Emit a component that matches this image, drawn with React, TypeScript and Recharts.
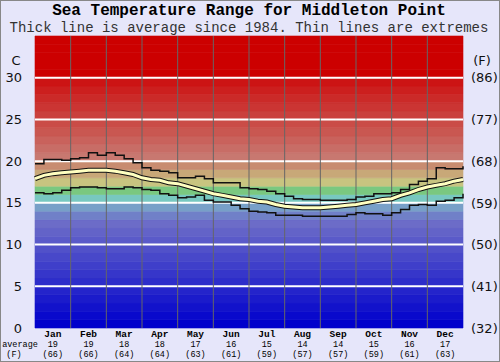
import { ComposedChart, Line, XAxis, YAxis, ReferenceArea, ReferenceLine } from "recharts";

const months = ["Jan", "Feb", "Mar", "Apr", "May", "Jun", "Jul", "Aug", "Sep", "Oct", "Nov", "Dec"];
const avgC = [19, 19, 18, 18, 17, 16, 15, 14, 14, 15, 16, 17];
const avgF = [66, 66, 64, 64, 63, 61, 59, 57, 57, 59, 61, 63];
const cTicks = [0, 5, 10, 15, 20, 25, 30];
const fTicks = [32, 41, 50, 59, 68, 77, 86];

// readings every quarter month, Jan 1 -> Dec 31
const maxVals = [
  19.7, 20.2, 20.2, 20.1, 20.3, 20.4, 21.0, 20.7, 21.0, 20.7, 20.3, 19.8, 19.2,
  18.9, 18.8, 18.6, 18.0, 18.0, 18.2, 17.9, 17.4, 17.4, 17.4, 16.8, 16.7,
  16.6, 16.4, 16.1, 15.8, 15.5, 15.4, 15.4, 15.3, 15.3, 15.3, 15.4, 15.7,
  15.8, 16.1, 16.1, 16.2, 16.6, 17.2, 17.6, 17.9, 19.2, 19.1, 19.1, 19.4,
];
const meanVals = [
  17.9, 18.3, 18.5, 18.6, 18.7, 18.8, 18.9, 18.9, 18.9, 18.8, 18.6, 18.4, 18.0,
  17.8, 17.7, 17.4, 17.3, 17.0, 16.7, 16.4, 16.1, 15.9, 15.7, 15.5, 15.4,
  15.2, 15.1, 14.8, 14.6, 14.5, 14.4, 14.4, 14.4, 14.5, 14.6, 14.7, 14.8,
  15.0, 15.2, 15.4, 15.5, 15.9, 16.2, 16.6, 16.9, 17.1, 17.3, 17.6, 17.8,
];
const minVals = [
  16.2, 16.1, 16.2, 16.5, 16.8, 16.9, 16.9, 16.8, 16.7, 16.7, 16.9, 16.8, 16.6,
  16.5, 16.1, 15.9, 15.6, 15.7, 15.9, 15.3, 15.1, 15.1, 14.7, 14.3, 14.0,
  13.9, 13.8, 13.5, 13.5, 13.5, 13.4, 13.4, 13.4, 13.4, 13.4, 13.6, 13.8,
  13.7, 13.7, 13.5, 13.8, 14.2, 14.7, 14.8, 14.7, 15.2, 15.3, 15.6, 16.1,
];

const data = meanVals.map((v, i) => ({ m: i / 4, max: maxVals[i], mean: v, min: minVals[i] }));

const mix = (a: number[], b: number[], t: number) =>
  `rgb(${a.map((c, k) => Math.round(c + (b[k] - c) * t)).join(",")})`;

const bandColor = (i: number) => {
  if (i <= 12) return mix([0, 0, 204], [108, 108, 200], i / 12);
  const mid: Record<number, string> = {
    13: "rgb(112,128,200)",
    14: "rgb(120,160,200)",
    15: "rgb(120,200,192)",
    16: "rgb(122,200,128)",
    17: "rgb(200,196,128)",
    18: "rgb(200,168,120)",
    19: "rgb(200,140,112)",
  };
  if (mid[i]) return mid[i];
  if (i < 30) return mix([200, 120, 112], [204, 20, 20], (i - 20) / 9);
  return "rgb(204,0,0)";
};

const bands = Array.from({ length: 35 }, (_, i) => i);
const mono = "'Liberation Mono', 'Courier New', monospace";
const sans = "'DejaVu Sans', sans-serif";

const MonthTick = (props: any) => {
  const { x, y, payload } = props;
  const i = Math.floor(payload.value);
  return (
    <text x={x} y={y + 9} fontFamily={mono} textAnchor="middle" fill="#000" fontSize={8.5}>
      <tspan x={x} fontSize={9.5} fontWeight="bold">{months[i]}</tspan>
      <tspan x={x} dy={10}>{avgC[i]}</tspan>
      <tspan x={x} dy={10}>({avgF[i]})</tspan>
    </text>
  );
};

const FTick = (props: any) => {
  const { x, y, index } = props;
  return (
    <text x={x} y={y} dy="0.36em" textAnchor="start" fontFamily={sans} fontSize={13} fill="#111">
      ({fTicks[index]})
    </text>
  );
};

const App = () => {
  return (
    <div style={{ position: "absolute", left: 0, top: 0, width: 500, height: 362, background: "#e6e6fa" }}>
      <ComposedChart width={500} height={362} data={data} margin={{ top: 36, right: 0, bottom: 0, left: 0 }}>
        <XAxis
          dataKey="m"
          type="number"
          domain={[0, 12]}
          ticks={months.map((_, i) => i + 0.5)}
          tick={<MonthTick />}
          tickLine={false}
          axisLine={false}
          tickSize={0}
          tickMargin={0}
          height={34}
          interval={0}
        />
        <YAxis
          yAxisId="c"
          domain={[0, 35]}
          ticks={cTicks}
          width={35}
          tickLine={false}
          axisLine={false}
          tickSize={0}
          tickMargin={13}
          tick={{ fontFamily: sans, fontSize: 13, fill: "#111" }}
        />
        <YAxis
          yAxisId="f"
          orientation="right"
          domain={[0, 35]}
          ticks={cTicks}
          width={37}
          tickLine={false}
          axisLine={false}
          tickSize={0}
          tickMargin={8}
          tick={<FTick />}
          interval={0}
        />
        {bands.map((i) => (
          <ReferenceArea
            key={`band-${i}`}
            yAxisId="c"
            y1={i}
            y2={i + 1}
            fill={bandColor(i)}
            fillOpacity={1}
            stroke={bandColor(i)}
            strokeWidth={0.6}
          />
        ))}
        {cTicks.slice(1).map((v) => (
          <ReferenceLine key={`h-${v}`} yAxisId="c" y={v} stroke="#fff" strokeWidth={2} />
        ))}
        {months.slice(1).map((_, i) => (
          <ReferenceLine key={`v-${i}`} yAxisId="c" x={i + 1} stroke="#666" strokeWidth={1} />
        ))}
        <Line yAxisId="f" dataKey="mean" stroke="none" dot={false} isAnimationActive={false} />
        <Line yAxisId="c" dataKey="max" type="stepAfter" stroke="#111" strokeWidth={1.5} dot={false} isAnimationActive={false} />
        <Line yAxisId="c" dataKey="min" type="stepAfter" stroke="#111" strokeWidth={1.5} dot={false} isAnimationActive={false} />
        <Line yAxisId="c" dataKey="mean" type="linear" stroke="#111" strokeWidth={5} dot={false} isAnimationActive={false} />
        <Line yAxisId="c" dataKey="mean" type="linear" stroke="#ffffc0" strokeWidth={3} dot={false} isAnimationActive={false} />
      </ComposedChart>
      <svg width={500} height={362} style={{ position: "absolute", left: 0, top: 0, pointerEvents: "none" }}>
        <text x={249} y={15} textAnchor="middle" fontFamily={mono} fontSize={16} fontWeight="bold" fill="#000">
          Sea Temperature Range for Middleton Point
        </text>
        <text x={249} y={32} textAnchor="middle" fontFamily={mono} fontSize={14} fill="#333">
          Thick line is average since 1984. Thin lines are extremes
        </text>
        <text x={16} y={65} textAnchor="middle" fontFamily={sans} fontSize={13} fill="#111">C</text>
        <text x={482} y={65} textAnchor="middle" fontFamily={sans} fontSize={13} fill="#111">(F)</text>
        <text x={20} y={347} textAnchor="middle" fontFamily={mono} fontSize={8.5} fill="#000">
          <tspan x={20}>average</tspan>
          <tspan x={14} dy={10}>(F)</tspan>
        </text>
        <rect x={0.5} y={0.5} width={499} height={361} fill="none" stroke="#888" />
      </svg>
    </div>
  );
};

export default App;
